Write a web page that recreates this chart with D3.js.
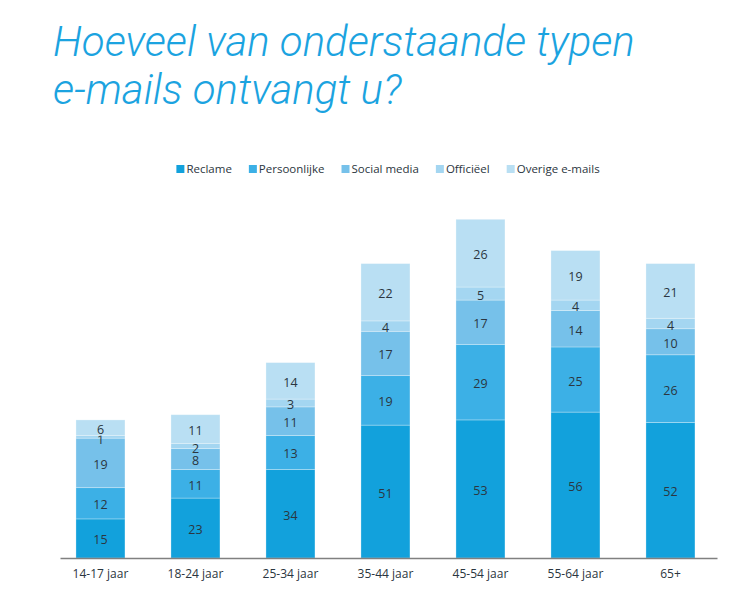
<!DOCTYPE html>
<html>
<head>
<meta charset="utf-8">
<script src="https://cdn.jsdelivr.net/npm/d3@7"></script>
<style>
  body { margin: 0; background: #fff; }
  svg { display: block; }
</style>
</head>
<body>
<svg id="chart" width="742" height="611"></svg>
<script>
// data
var groups = ["14-17 jaar", "18-24 jaar", "25-34 jaar", "35-44 jaar", "45-54 jaar", "55-64 jaar", "65+"];
var series = ["Reclame", "Persoonlijke", "Social media", "Officiëel", "Overige e-mails"];
var reclame      = [15, 23, 34, 51, 53, 56, 52];
var persoonlijke = [12, 11, 13, 19, 29, 25, 26];
var socialMedia  = [19, 8, 11, 17, 17, 14, 10];
var officieel    = [1, 2, 3, 4, 5, 4, 4];
var overige      = [6, 11, 14, 22, 26, 19, 21];
var colors = ["#12a1dc", "#3cb0e6", "#76c1ea", "#a4d6f1", "#b9dff3"];

var values = [reclame, persoonlijke, socialMedia, officieel, overige];
var rows = groups.map(function (g, i) {
  var r = {group: g};
  series.forEach(function (s, k) { r[s] = values[k][i]; });
  return r;
});
var stacked = d3.stack().keys(series)(rows);

var svg = d3.select("#chart");

// title
var title = svg.append("text")
  .attr("fill", "#1ba3e0")
  .style("font-family", "Roboto, sans-serif")
  .style("font-weight", "300")
  .style("font-style", "italic")
  .style("font-size", "42px");
title.append("tspan").attr("x", 53).attr("y", 56).text("Hoeveel van onderstaande typen");
title.append("tspan").attr("x", 53).attr("y", 104).text("e-mails ontvangt u?");

var x = d3.scaleBand()
  .domain(groups)
  .range([60, 717])
  .paddingInner(0.4842)
  .paddingOuter(0.2)
  .align(0.42);

var y = d3.scaleLinear()
  .domain([0, 130])
  .range([558, 219.3]);

// bars
var layer = svg.append("g").selectAll("g")
  .data(stacked)
  .join("g")
  .attr("fill", function (d, i) { return colors[i]; });

layer.selectAll("rect")
  .data(function (d) { return d; })
  .join("rect")
  .attr("x", function (d) { return x(d.data.group); })
  .attr("width", x.bandwidth())
  .attr("y", function (d) { return y(d[1]); })
  .attr("height", function (d) { return y(d[0]) - y(d[1]); })
  .attr("stroke", "rgba(255,255,255,0.35)")
  .attr("stroke-width", 0.8);

// value labels (tiny segments get pushed a little so the digits do not collide)
layer.selectAll("text")
  .data(function (d) { return d; })
  .join("text")
  .attr("x", function (d) { return x(d.data.group) + x.bandwidth() / 2; })
  .attr("y", function (d) {
    var v = d[1] - d[0], mid = (y(d[0]) + y(d[1])) / 2;
    return v <= 2 ? mid + 3 : mid + 1.5;
  })
  .attr("dy", "0.36em")
  .attr("text-anchor", "middle")
  .attr("fill", "#2b3640")
  .style("font-family", "'Open Sans', sans-serif")
  .style("font-size", "12.5px")
  .text(function (d) { return d[1] - d[0]; });

// x axis
var axis = svg.append("g")
  .attr("transform", "translate(0,558)")
  .call(d3.axisBottom(x).tickSize(0).tickPadding(11));
axis.select(".domain").attr("stroke", "#808080").attr("stroke-width", 1.5);
axis.selectAll("text")
  .attr("fill", "#2b3640")
  .style("font-family", "'Open Sans', sans-serif")
  .style("font-size", "12px");

// legend
var legend = svg.append("g").attr("transform", "translate(0,169)");
var items = legend.selectAll("g")
  .data(series)
  .join("g");
items.append("rect")
  .attr("y", -4)
  .attr("width", 8)
  .attr("height", 8)
  .attr("fill", function (d, i) { return colors[i]; });
items.append("text")
  .attr("x", 10)
  .attr("dy", "0.35em")
  .attr("fill", "#2b3640")
  .style("font-family", "'Open Sans', sans-serif")
  .style("font-size", "11.5px")
  .text(function (d) { return d; });

var pos = 0, offsets = [];
items.each(function () {
  offsets.push(pos);
  pos += this.getBBox().width + 17;
});
var total = pos - 17, left = 388 - total / 2;
items.attr("transform", function (d, i) { return "translate(" + (left + offsets[i]) + ",0)"; });
</script>
</body>
</html>
